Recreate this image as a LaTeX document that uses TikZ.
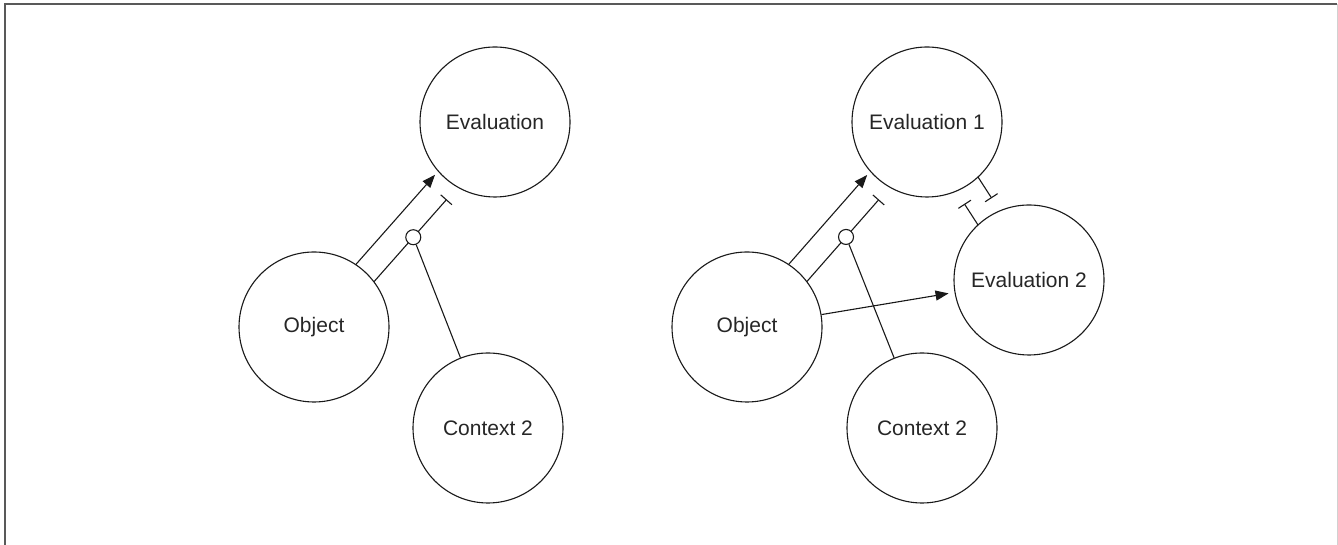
\documentclass[tikz,border=0pt]{standalone}
\usepackage{fontspec}
\setmainfont{Liberation Sans}
\usetikzlibrary{arrows.meta,calc}
\begin{document}
\begin{tikzpicture}[x=1pt,y=1pt,
  bignode/.style={circle,draw=black!90,line width=1.1pt,minimum size=150pt,inner sep=0pt,font=\fontsize{21}{25}\selectfont,text=black!85},
  smallc/.style={circle,draw=black!90,fill=white,line width=1.1pt,minimum size=15pt,inner sep=0pt},
  conn/.style={line width=1.1pt,draw=black!90},
  arr/.style={conn,-{Triangle[length=13pt,width=10pt]}},
  barend/.style={conn,-{Bar[width=15pt]}}
]
\useasboundingbox (0,0) rectangle (1338,545);
\draw[line width=1.6pt, black!65] (5,0) -- (5,541) -- (1337,541);
\draw[line width=1pt, black!18] (1337,541) -- (1337,0);

% left diagram
\node[bignode] (ev) at (495,423) {Evaluation};
\node[bignode] (ob) at (314,218) {Object};
\node[bignode] (cx) at (488,117) {Context 2};

\draw[arr, shorten <=74.3pt, shorten >=79.3pt] ($(ob)!10pt!90:(ev)$) -- ($(ev)!10pt!-90:(ob)$);
\coordinate (a1) at ($(ob)!15pt!-90:(ev)$);
\coordinate (b1) at ($(ev)!15pt!90:(ob)$);
\draw[barend, shorten <=73.5pt, shorten >=90pt] (a1) -- (b1);
\node[smallc] (s1) at ($(a1)!133pt!(b1)$) {};
\draw[conn] (s1) -- (cx);

% right diagram
\node[bignode] (ev1) at (927,423) {Evaluation 1};
\node[bignode] (ev2) at (1029,265) {Evaluation 2};
\node[bignode] (ob2) at (747,218) {Object};
\node[bignode] (cx2) at (922,117) {Context 2};

\draw[arr, shorten <=74.3pt, shorten >=79.3pt] ($(ob2)!10pt!90:(ev1)$) -- ($(ev1)!10pt!-90:(ob2)$);
\coordinate (a2) at ($(ob2)!15pt!-90:(ev1)$);
\coordinate (b2) at ($(ev1)!15pt!90:(ob2)$);
\draw[barend, shorten <=73.5pt, shorten >=90pt] (a2) -- (b2);
\node[smallc] (s2) at ($(a2)!133pt!(b2)$) {};
\draw[conn] (s2) -- (cx2);

\draw[barend, shorten <=73.9pt, shorten >=89pt] ($(ev1)!13pt!90:(ev2)$) -- ($(ev2)!13pt!-90:(ev1)$);
\draw[barend, shorten <=73.9pt, shorten >=89pt] ($(ev2)!13pt!90:(ev1)$) -- ($(ev1)!13pt!-90:(ev2)$);

\draw[arr, shorten >=6pt] (ob2) -- (ev2);
\end{tikzpicture}
\end{document}
